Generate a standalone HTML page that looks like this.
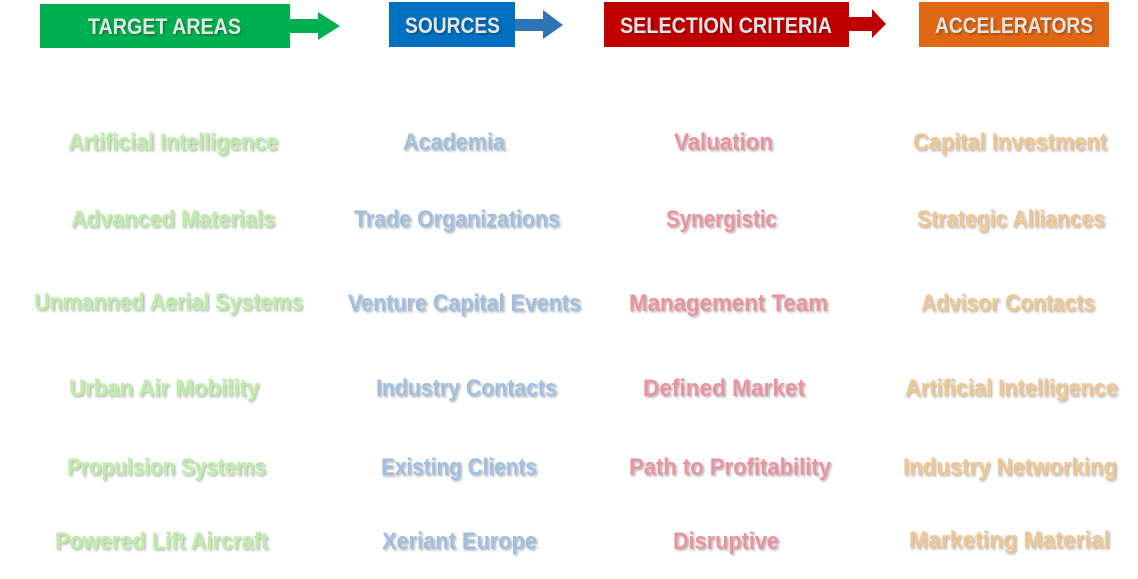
<!DOCTYPE html>
<html><head><meta charset="utf-8"><style>
html,body{margin:0;padding:0;background:#fff;width:1138px;height:579px;overflow:hidden}
svg text{font-family:"Liberation Sans",sans-serif;font-weight:bold;}
.h{fill:#e4e4e4;font-size:22px;filter:url(#sh)}
.g{fill:#bceea8;font-size:24px;filter:url(#sh)}
.b{fill:#9fbfe0;font-size:24px;filter:url(#sh)}
.r{fill:#ea929e;font-size:24px;filter:url(#sh)}
.o{fill:#f0c58e;font-size:24px;filter:url(#sh)}
</style></head><body>
<svg width="1138" height="579" xmlns="http://www.w3.org/2000/svg">
<defs><filter id="sh" x="-5%" y="-30%" width="110%" height="160%"><feDropShadow dx="1.5" dy="1.5" stdDeviation="1" flood-color="#000" flood-opacity="0.3"/></filter></defs>
<rect x="40" y="4" width="250" height="44" fill="#00b050"/>
<polygon points="290,19 318,19 318,12 340,26 318,40 318,33 290,33" fill="#00b050"/>
<rect x="389" y="2" width="126" height="45" fill="#0070c0"/>
<polygon points="515,19 543,19 543,10 563,25 543,39 543,31 515,31" fill="#2e75b6"/>
<rect x="604" y="2" width="245" height="45" fill="#c00000"/>
<polygon points="849,17 872,17 872,9 886,24 872,38 872,31 849,31" fill="#c00000"/>
<rect x="919" y="2" width="190" height="45" fill="#e06814"/>
<text class="h" x="88" y="34" textLength="153" lengthAdjust="spacingAndGlyphs">TARGET AREAS</text>
<text class="h" x="405" y="33" textLength="95" lengthAdjust="spacingAndGlyphs">SOURCES</text>
<text class="h" x="620" y="33" textLength="212" lengthAdjust="spacingAndGlyphs">SELECTION CRITERIA</text>
<text class="h" x="935" y="33" textLength="158" lengthAdjust="spacingAndGlyphs">ACCELERATORS</text>

<text class="g" x="68" y="150" textLength="210" lengthAdjust="spacingAndGlyphs">Artificial Intelligence</text>
<text class="g" x="71" y="227" textLength="204" lengthAdjust="spacingAndGlyphs">Advanced Materials</text>
<text class="g" x="34" y="310" textLength="269" lengthAdjust="spacingAndGlyphs">Unmanned Aerial Systems</text>
<text class="g" x="69" y="396" textLength="190" lengthAdjust="spacingAndGlyphs">Urban Air Mobility</text>
<text class="g" x="67" y="475" textLength="199" lengthAdjust="spacingAndGlyphs">Propulsion Systems</text>
<text class="g" x="55" y="549" textLength="213" lengthAdjust="spacingAndGlyphs">Powered Lift Aircraft</text>

<text class="b" x="403" y="150" textLength="102" lengthAdjust="spacingAndGlyphs">Academia</text>
<text class="b" x="354" y="227" textLength="206" lengthAdjust="spacingAndGlyphs">Trade Organizations</text>
<text class="b" x="348" y="311" textLength="233" lengthAdjust="spacingAndGlyphs">Venture Capital Events</text>
<text class="b" x="376" y="396" textLength="181" lengthAdjust="spacingAndGlyphs">Industry Contacts</text>
<text class="b" x="381" y="475" textLength="156" lengthAdjust="spacingAndGlyphs">Existing Clients</text>
<text class="b" x="382" y="549" textLength="155" lengthAdjust="spacingAndGlyphs">Xeriant Europe</text>

<text class="r" x="674" y="150" textLength="99" lengthAdjust="spacingAndGlyphs">Valuation</text>
<text class="r" x="666" y="227" textLength="111" lengthAdjust="spacingAndGlyphs">Synergistic</text>
<text class="r" x="629" y="311" textLength="199" lengthAdjust="spacingAndGlyphs">Management Team</text>
<text class="r" x="643" y="396" textLength="162" lengthAdjust="spacingAndGlyphs">Defined Market</text>
<text class="r" x="629" y="475" textLength="202" lengthAdjust="spacingAndGlyphs">Path to Profitability</text>
<text class="r" x="673" y="549" textLength="106" lengthAdjust="spacingAndGlyphs">Disruptive</text>

<text class="o" x="913" y="150" textLength="194" lengthAdjust="spacingAndGlyphs">Capital Investment</text>
<text class="o" x="917" y="227" textLength="188" lengthAdjust="spacingAndGlyphs">Strategic Alliances</text>
<text class="o" x="921" y="311" textLength="174" lengthAdjust="spacingAndGlyphs">Advisor Contacts</text>
<text class="o" x="905" y="396" textLength="213" lengthAdjust="spacingAndGlyphs">Artificial Intelligence</text>
<text class="o" x="903" y="475" textLength="214" lengthAdjust="spacingAndGlyphs">Industry Networking</text>
<text class="o" x="909" y="548" textLength="201" lengthAdjust="spacingAndGlyphs">Marketing Material</text>
</svg>
</body></html>
